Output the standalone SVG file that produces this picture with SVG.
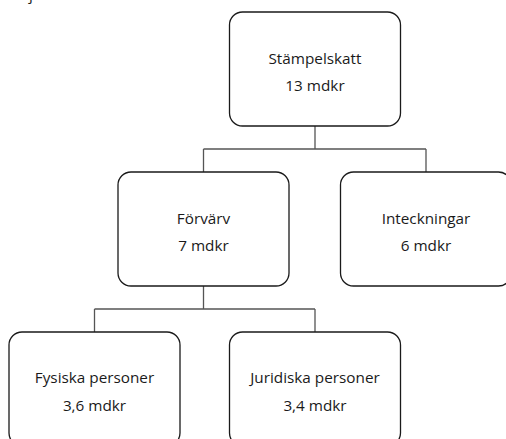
<svg xmlns="http://www.w3.org/2000/svg" width="506" height="439" viewBox="0 0 506 439">
<style>
.box{fill:#fff;stroke:#1a1a1a;stroke-width:1.3}
.con{fill:none;stroke:#555;stroke-width:1.3}
text{font-family:"Open Sans","Liberation Sans",sans-serif;font-size:15.3px;fill:#1a1a1a;text-anchor:middle}
</style>
<rect width="506" height="439" fill="#fff"/>
<text x="29" y="0" style="text-anchor:start">j</text>
<g id="connectors">
<path class="con" d="M315 126V149M203.5 149H426M203.5 149V172M426 149V172"/>
<path class="con" d="M203.5 286V309M94.5 309H315M94.5 309V332M315 309V332"/>
</g>
<g id="stampelskatt">
<rect class="box" x="229.5" y="12" width="171" height="114" rx="13"/>
<text x="315" y="63.5">Stämpelskatt</text>
<text x="315" y="91">13 mdkr</text>
</g>
<g id="forvarv">
<rect class="box" x="118" y="172" width="171" height="114" rx="13"/>
<text x="203.5" y="223.5">Förvärv</text>
<text x="203.5" y="251">7 mdkr</text>
</g>
<g id="inteckningar">
<rect class="box" x="340.5" y="172" width="171" height="114" rx="13"/>
<text x="426" y="223.5">Inteckningar</text>
<text x="426" y="251">6 mdkr</text>
</g>
<g id="fysiska">
<rect class="box" x="9" y="332" width="171" height="114" rx="13"/>
<text x="94.5" y="383">Fysiska personer</text>
<text x="94.5" y="410.5">3,6 mdkr</text>
</g>
<g id="juridiska">
<rect class="box" x="229.5" y="332" width="171" height="114" rx="13"/>
<text x="315" y="383">Juridiska personer</text>
<text x="315" y="410.5">3,4 mdkr</text>
</g>
</svg>
